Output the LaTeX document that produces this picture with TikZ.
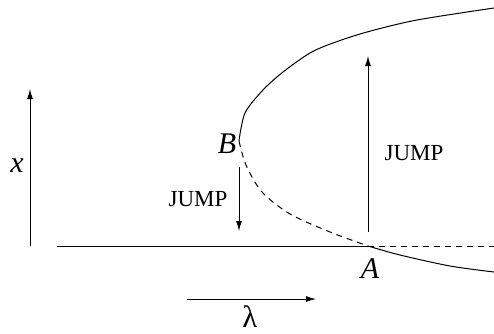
\documentclass[tikz,border=0pt]{standalone}
\usepackage{fontspec}
\setmainfont{Liberation Serif}
\usetikzlibrary{arrows.meta}
\begin{document}
\begin{tikzpicture}[
  x=0.5pt, y=-0.5pt,
  branch/.style={line width=0.5pt, draw=black},
  unstable/.style={branch, dash pattern=on 3pt off 2.5pt},
  jump/.style={line width=0.5pt, -{Latex[length=5pt, width=3pt]}},
  mlabel/.style={font=\fontsize{15}{18}\selectfont\itshape, inner sep=0pt},
  tlabel/.style={font=\fontsize{11.5}{14}\selectfont, inner sep=0pt}
]
  % Bounding box in pixel units of the reference
  \useasboundingbox (0,0) rectangle (494,333);

  % Fold points
  \coordinate (A) at (368,246);
  \coordinate (B) at (239,141);
  \coordinate (left) at (57,246);
  \coordinate (right) at (494,246);

  % Trivial branch
  \draw[branch] (left) -- (A);
  \draw[unstable] (A) -- (right);

  % Upper stable branch
  \draw[branch] plot[smooth] coordinates {(239,141) (245,113) (263,90) (283,72)
    (310,53) (333,43) (367,32) (417,20) (494,8)};
  % Unstable branch from B to A
  \draw[unstable] plot[smooth] coordinates {(239,141) (246,165) (262,192)
    (290,214) (330,232) (368,246)};
  % Lower branch beyond A
  \draw[branch] plot[smooth] coordinates {(368,246) (400,255) (450,266) (494,272)};

  % Labels of the fold points
  \node[mlabel] (Blab) at (227,144) {B};
  \node[mlabel] (Alab) at (370,269) {A};

  % Jumps
  \coordinate (jdtop) at (239,167);
  \coordinate (jdbot) at (239,231);
  \coordinate (jubot) at (368,232);
  \coordinate (jutop) at (368,56);
  \draw[jump] (jdtop) -- (jdbot);
  \draw[jump] (jubot) -- (jutop);
  \node[tlabel] (jd) at (198,199) {JUMP};
  \node[tlabel] (ju) at (414,153) {JUMP};

  % Axes
  \coordinate (xbot) at (30,246);
  \coordinate (xtop) at (30,89);
  \draw[jump] (xbot) -- (xtop);
  \node[mlabel] (xlab) at (17,166) {x};
  \coordinate (lleft) at (187,299);
  \coordinate (lright) at (316,299);
  \draw[jump] (lleft) -- (lright);
  \node[mlabel, font=\fontsize{15.5}{18}\selectfont] (llab) at (250,317) {λ};
\end{tikzpicture}
\end{document}
